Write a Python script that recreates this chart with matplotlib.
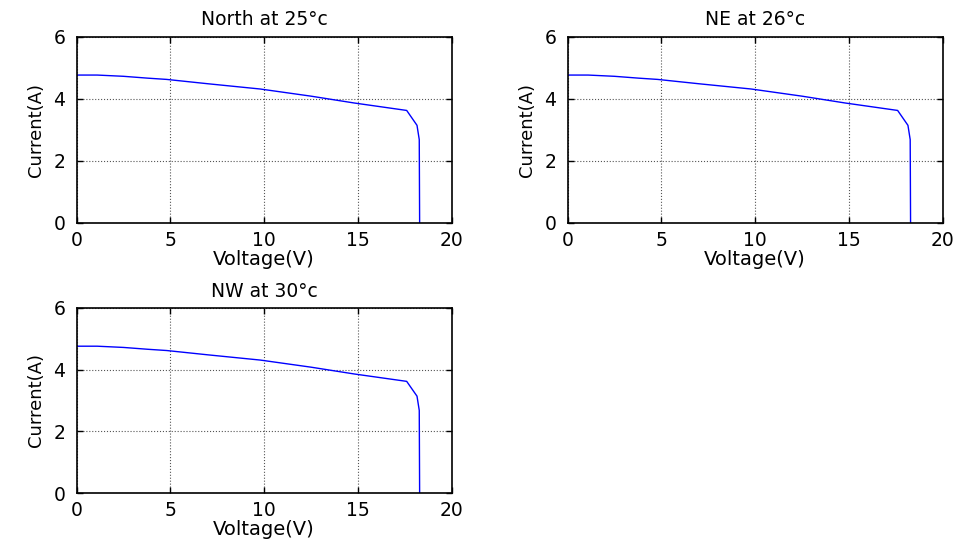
import matplotlib
matplotlib.use('Agg')
import matplotlib.pyplot as plt

# I-V curve (same shape in all three panels)
voltage = [0.0, 1.1, 2.5, 3.8, 4.8, 7.0, 9.8, 12.5, 14.8, 17.6, 18.15, 18.27, 18.29]
current = [4.76, 4.76, 4.72, 4.66, 4.62, 4.48, 4.31, 4.08, 3.86, 3.62, 3.14, 2.68, 0.0]

titles = ['North at 25°c', 'NE at 26°c', 'NW at 30°c']
xticks = [0, 5, 10, 15, 20]
yticks = [0, 2, 4, 6]

plt.rcParams['font.family'] = ['DejaVu Sans']

fig = plt.figure(figsize=(9.57, 5.46), dpi=100)
positions = [
    [0.080, 0.592, 0.392, 0.341],
    [0.593, 0.592, 0.392, 0.341],
    [0.080, 0.097, 0.392, 0.339],
]

for title, pos in zip(titles, positions):
    ax = fig.add_axes(pos)
    ax.plot(voltage, current, color='blue', linewidth=1)
    ax.set_xlim(0, 20)
    ax.set_ylim(0, 6)
    ax.set_xticks(xticks)
    ax.set_yticks(yticks)
    ax.grid(True, color='#555555', linestyle=':', linewidth=0.8)
    ax.tick_params(axis='x', direction='in', top=True, labelsize=13.5,
                   length=4, width=1, pad=6)
    ax.tick_params(axis='y', direction='in', right=True, labelsize=13.5,
                   length=4, width=1, pad=8)
    for sp in ax.spines.values():
        sp.set_linewidth(1.2)
    ax.set_title(title, fontsize=13.5, pad=8)
    ax.set_xlabel('Voltage(V)', fontsize=14, labelpad=0)
    ax.set_ylabel('Current(A)', fontsize=13, labelpad=6)

fig.savefig('out.png', dpi=100)
